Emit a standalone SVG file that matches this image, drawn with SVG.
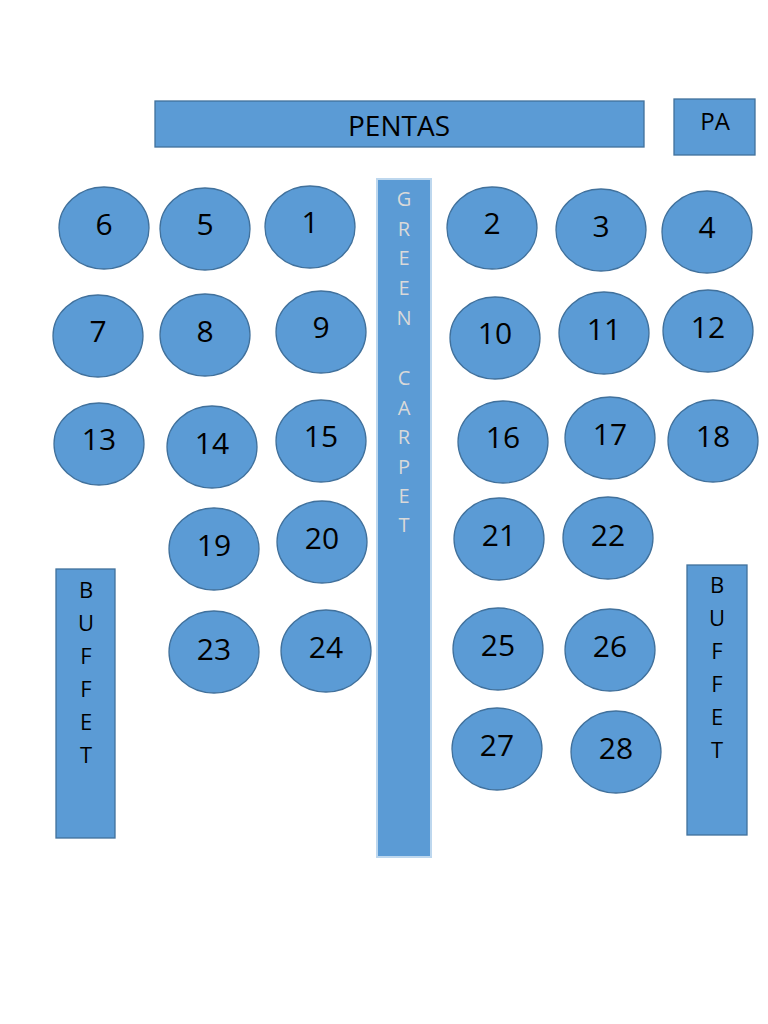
<svg xmlns="http://www.w3.org/2000/svg" width="768" height="1024" viewBox="0 0 768 1024">
<style>
.box{fill:#5B9BD5;stroke:#41719C;stroke-width:1.3}
.carpet{fill:#5B9BD5;stroke:#BDD7EE;stroke-width:2}
.t{fill:#5B9BD5;stroke:#41719C;stroke-width:1.3}
.n{font-family:"Open Sans","Liberation Sans",sans-serif;font-size:30px;fill:#000;text-anchor:middle}
.lbl{font-family:"Open Sans","Liberation Sans",sans-serif;fill:#000;text-anchor:middle}
.cl{font-family:"Open Sans","Liberation Sans",sans-serif;font-size:20px;fill:#D9D9D9;text-anchor:middle}
</style>
<rect width="768" height="1024" fill="#fff"/>
<g id="pentas"><rect class="box" x="155" y="101" width="489" height="46"/><text class="lbl" x="399" y="136" font-size="28">PENTAS</text></g>
<g id="pa"><rect class="box" x="674" y="99" width="81" height="56"/><text class="lbl" x="715" y="130" font-size="24">PA</text></g>
<g id="carpet"><rect class="carpet" x="377" y="179" width="54" height="678"/>
<text class="cl" x="404"><tspan x="404" y="206">G</tspan><tspan x="404" y="236">R</tspan><tspan x="404" y="265">E</tspan><tspan x="404" y="295">E</tspan><tspan x="404" y="325">N</tspan><tspan x="404" y="385">C</tspan><tspan x="404" y="415">A</tspan><tspan x="404" y="444">R</tspan><tspan x="404" y="474">P</tspan><tspan x="404" y="503">E</tspan><tspan x="404" y="532">T</tspan></text></g>
<g id="buffet-left"><rect class="box" x="56" y="569" width="59" height="269"/>
<text class="lbl" font-size="22"><tspan x="86" y="598">B</tspan><tspan x="86" y="631">U</tspan><tspan x="86" y="664">F</tspan><tspan x="86" y="697">F</tspan><tspan x="86" y="730">E</tspan><tspan x="86" y="763">T</tspan></text></g>
<g id="buffet-right"><rect class="box" x="687" y="565" width="60" height="270"/>
<text class="lbl" font-size="22"><tspan x="717" y="593">B</tspan><tspan x="717" y="626">U</tspan><tspan x="717" y="659">F</tspan><tspan x="717" y="692">F</tspan><tspan x="717" y="725">E</tspan><tspan x="717" y="758">T</tspan></text></g>
<g id="t6"><ellipse class="t" cx="104" cy="228" rx="45" ry="41"/><text class="n" x="104" y="235">6</text></g>
<g id="t5"><ellipse class="t" cx="205" cy="229" rx="45" ry="41"/><text class="n" x="205" y="235">5</text></g>
<g id="t1"><ellipse class="t" cx="310" cy="227" rx="45" ry="41"/><text class="n" x="310" y="233">1</text></g>
<g id="t2"><ellipse class="t" cx="492" cy="228" rx="45" ry="41"/><text class="n" x="492" y="234">2</text></g>
<g id="t3"><ellipse class="t" cx="601" cy="230" rx="45" ry="41"/><text class="n" x="601" y="237">3</text></g>
<g id="t4"><ellipse class="t" cx="707" cy="232" rx="45" ry="41"/><text class="n" x="707" y="238">4</text></g>
<g id="t7"><ellipse class="t" cx="98" cy="336" rx="45" ry="41"/><text class="n" x="98" y="342">7</text></g>
<g id="t8"><ellipse class="t" cx="205" cy="335" rx="45" ry="41"/><text class="n" x="205" y="342">8</text></g>
<g id="t9"><ellipse class="t" cx="321" cy="332" rx="45" ry="41"/><text class="n" x="321" y="338">9</text></g>
<g id="t10"><ellipse class="t" cx="495" cy="338" rx="45" ry="41"/><text class="n" x="495" y="344">10</text></g>
<g id="t11"><ellipse class="t" cx="604" cy="333" rx="45" ry="41"/><text class="n" x="604" y="340">11</text></g>
<g id="t12"><ellipse class="t" cx="708" cy="331" rx="45" ry="41"/><text class="n" x="708" y="338">12</text></g>
<g id="t13"><ellipse class="t" cx="99" cy="444" rx="45" ry="41"/><text class="n" x="99" y="450">13</text></g>
<g id="t14"><ellipse class="t" cx="212" cy="447" rx="45" ry="41"/><text class="n" x="212" y="454">14</text></g>
<g id="t15"><ellipse class="t" cx="321" cy="441" rx="45" ry="41"/><text class="n" x="321" y="447">15</text></g>
<g id="t16"><ellipse class="t" cx="503" cy="442" rx="45" ry="41"/><text class="n" x="503" y="448">16</text></g>
<g id="t17"><ellipse class="t" cx="610" cy="438" rx="45" ry="41"/><text class="n" x="610" y="445">17</text></g>
<g id="t18"><ellipse class="t" cx="713" cy="441" rx="45" ry="41"/><text class="n" x="713" y="447">18</text></g>
<g id="t19"><ellipse class="t" cx="214" cy="549" rx="45" ry="41"/><text class="n" x="214" y="556">19</text></g>
<g id="t20"><ellipse class="t" cx="322" cy="542" rx="45" ry="41"/><text class="n" x="322" y="549">20</text></g>
<g id="t21"><ellipse class="t" cx="499" cy="539" rx="45" ry="41"/><text class="n" x="499" y="546">21</text></g>
<g id="t22"><ellipse class="t" cx="608" cy="538" rx="45" ry="41"/><text class="n" x="608" y="546">22</text></g>
<g id="t23"><ellipse class="t" cx="214" cy="652" rx="45" ry="41"/><text class="n" x="214" y="660">23</text></g>
<g id="t24"><ellipse class="t" cx="326" cy="651" rx="45" ry="41"/><text class="n" x="326" y="658">24</text></g>
<g id="t25"><ellipse class="t" cx="498" cy="649" rx="45" ry="41"/><text class="n" x="498" y="656">25</text></g>
<g id="t26"><ellipse class="t" cx="610" cy="650" rx="45" ry="41"/><text class="n" x="610" y="657">26</text></g>
<g id="t27"><ellipse class="t" cx="497" cy="749" rx="45" ry="41"/><text class="n" x="497" y="756">27</text></g>
<g id="t28"><ellipse class="t" cx="616" cy="752" rx="45" ry="41"/><text class="n" x="616" y="759">28</text></g>
<g id="connectors"/>
</svg>
